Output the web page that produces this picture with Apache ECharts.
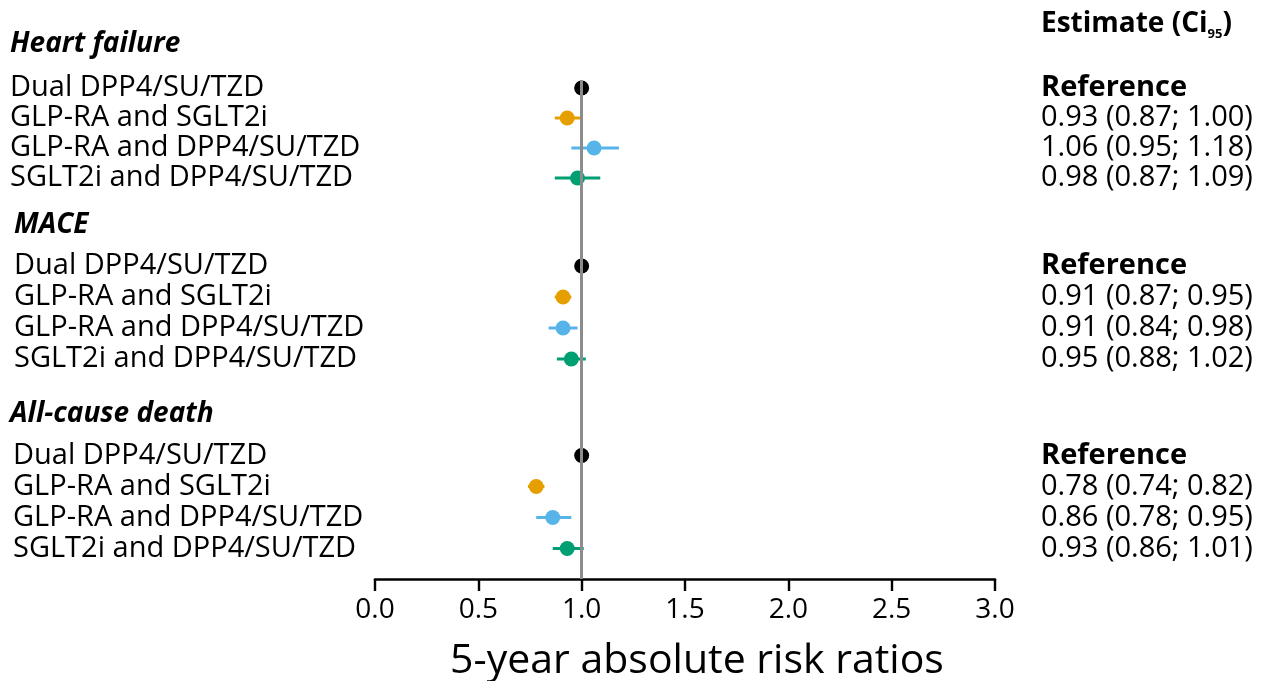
<!DOCTYPE html>
<html>
<head>
<meta charset="utf-8">
<script src="https://cdn.jsdelivr.net/npm/echarts@6/dist/echarts.min.js"></script>
<style>
html,body{margin:0;padding:0;background:#fff;}
#chart{width:1263px;height:681px;}
</style>
</head>
<body>
<div id="chart"></div>
<script>
// ---- data ----
const groupTitles = ['Heart failure', 'MACE', 'All-cause death'];
const rowLabels = ['Dual DPP4/SU/TZD', 'GLP-RA and SGLT2i', 'GLP-RA and DPP4/SU/TZD', 'SGLT2i and DPP4/SU/TZD'];
const rowColors = ['#000000', '#E69F00', '#56B4E9', '#009E73'];

const hfEst  = [1.00, 0.93, 1.06, 0.98];
const hfLow  = [null, 0.87, 0.95, 0.87];
const hfHigh = [null, 1.00, 1.18, 1.09];

const maceEst  = [1.00, 0.91, 0.91, 0.95];
const maceLow  = [null, 0.87, 0.84, 0.88];
const maceHigh = [null, 0.95, 0.98, 1.02];

const deathEst  = [1.00, 0.78, 0.86, 0.93];
const deathLow  = [null, 0.74, 0.78, 0.86];
const deathHigh = [null, 0.82, 0.95, 1.01];

const xTicks = [0.0, 0.5, 1.0, 1.5, 2.0, 2.5, 3.0];
const refValue = 1.0;
const xTitle = '5-year absolute risk ratios';

// ---- layout ----
const FONT = '"Open Sans", "Noto Sans", sans-serif';
const plotLeft = 375, plotRight = 1263 - 995;
const groupLayout = [
  {top: 73, height: 120, labelX: 10},
  {top: 250.5, height: 124, labelX: 14},
  {top: 440, height: 124, labelX: 13}
];
const titleY = [44, 225, 414];
const titleX = [10, 14, 10];

const groups = [
  {est: hfEst, low: hfLow, high: hfHigh},
  {est: maceEst, low: maceLow, high: maceHigh},
  {est: deathEst, low: deathLow, high: deathHigh}
];

function estLabel(g, i) {
  if (g.low[i] === null) return '{b|Reference}';
  return g.est[i].toFixed(2) + ' (' + g.low[i].toFixed(2) + '; ' + g.high[i].toFixed(2) + ')';
}

const grid = [], xAxis = [], yAxis = [], series = [];

groups.forEach((g, gi) => {
  const L = groupLayout[gi];
  grid.push({left: plotLeft, right: plotRight, top: L.top, height: L.height, containLabel: false, outerBoundsMode: 'none'});
  xAxis.push({type: 'value', gridIndex: gi, min: 0, max: 3, interval: 0.5, show: false});
  yAxis.push({
    type: 'category', gridIndex: gi, data: rowLabels, inverse: true, position: 'left',
    axisLine: {show: false}, axisTick: {show: false}, splitLine: {show: false},
    axisLabel: {interval: 0, align: 'left', margin: plotLeft - L.labelX, fontFamily: FONT, fontSize: 29, color: '#000'}
  });
  yAxis.push({
    type: 'category', gridIndex: gi, data: rowLabels.map((_, i) => estLabel(g, i)), inverse: true, position: 'right',
    axisLine: {show: false}, axisTick: {show: false}, splitLine: {show: false},
    axisLabel: {interval: 0, align: 'left', margin: 46, fontFamily: FONT, fontSize: 29, color: '#000',
      rich: {b: {fontFamily: FONT, fontSize: 29, fontWeight: 'bold', color: '#000'}}}
  });
  const yIdx = gi * 2;
  // error bars
  series.push({
    type: 'custom', xAxisIndex: gi, yAxisIndex: yIdx, z: 3,
    data: g.low.map((lo, i) => lo === null ? null : [lo, g.high[i], i]).filter(d => d !== null),
    renderItem: function (params, api) {
      const lo = api.coord([api.value(0), api.value(2)]);
      const hi = api.coord([api.value(1), api.value(2)]);
      return {
        type: 'line',
        shape: {x1: lo[0], y1: lo[1], x2: hi[0], y2: hi[1]},
        style: {stroke: rowColors[api.value(2)], lineWidth: 3}
      };
    },
    encode: {x: [0, 1], y: 2},
    silent: true
  });
  // point estimates
  series.push({
    type: 'scatter', xAxisIndex: gi, yAxisIndex: yIdx, z: 4,
    symbol: 'circle', symbolSize: 15,
    data: g.est.map((v, i) => ({value: [v, i], itemStyle: {color: rowColors[i], opacity: 1}})),
    silent: true
  });
});

// axis grid (full height) with reference line
const ai = groups.length;
grid.push({left: plotLeft, right: plotRight, top: 80, bottom: 681 - 579, containLabel: false, outerBoundsMode: 'none'});
xAxis.push({
  type: 'value', gridIndex: ai, min: xTicks[0], max: xTicks[xTicks.length - 1], interval: 0.5,
  position: 'bottom',
  axisLine: {show: true, onZero: false, lineStyle: {color: '#000', width: 2.6}},
  axisTick: {show: true, length: 12, lineStyle: {color: '#000', width: 2.4}},
  splitLine: {show: false},
  axisLabel: {fontFamily: FONT, fontSize: 28, color: '#000', margin: 17,
    formatter: v => v.toFixed(1)},
  name: xTitle, nameLocation: 'middle', nameGap: 62,
  nameTextStyle: {fontFamily: FONT, fontSize: 41, color: '#000', padding: [0, 0, 0, 24]}
});
yAxis.push({type: 'value', gridIndex: ai, min: 0, max: 1, show: false});
series.push({
  type: 'scatter', xAxisIndex: ai, yAxisIndex: groups.length * 2, data: [], z: 1,
  markLine: {
    silent: true, symbol: ['none', 'none'], label: {show: false},
    lineStyle: {color: '#8c8c8c', width: 3, type: 'solid'},
    data: [{xAxis: refValue}]
  }
});

const graphic = groupTitles.map((t, i) => ({
  type: 'text', x: titleX[i], y: titleY[i],
  style: {text: t, fill: '#000', font: 'italic bold 28px ' + FONT, verticalAlign: 'middle'}
}));
graphic.push({
  type: 'text', x: 1041, y: 24,
  style: {
    text: '{h|Estimate (Ci}{s|95}{h|)}',
    verticalAlign: 'middle',
    rich: {
      h: {fontFamily: FONT, fontSize: 28, fontWeight: 'bold', fill: '#000', lineHeight: 34},
      s: {fontFamily: FONT, fontSize: 13, fontWeight: 'bold', fill: '#000', lineHeight: 10, verticalAlign: 'bottom'}
    }
  }
});

const chart = echarts.init(document.getElementById('chart'), null, {renderer: 'canvas'});
chart.setOption({
  animation: false,
  backgroundColor: '#fff',
  grid, xAxis, yAxis, series, graphic
});
</script>
</body>
</html>
